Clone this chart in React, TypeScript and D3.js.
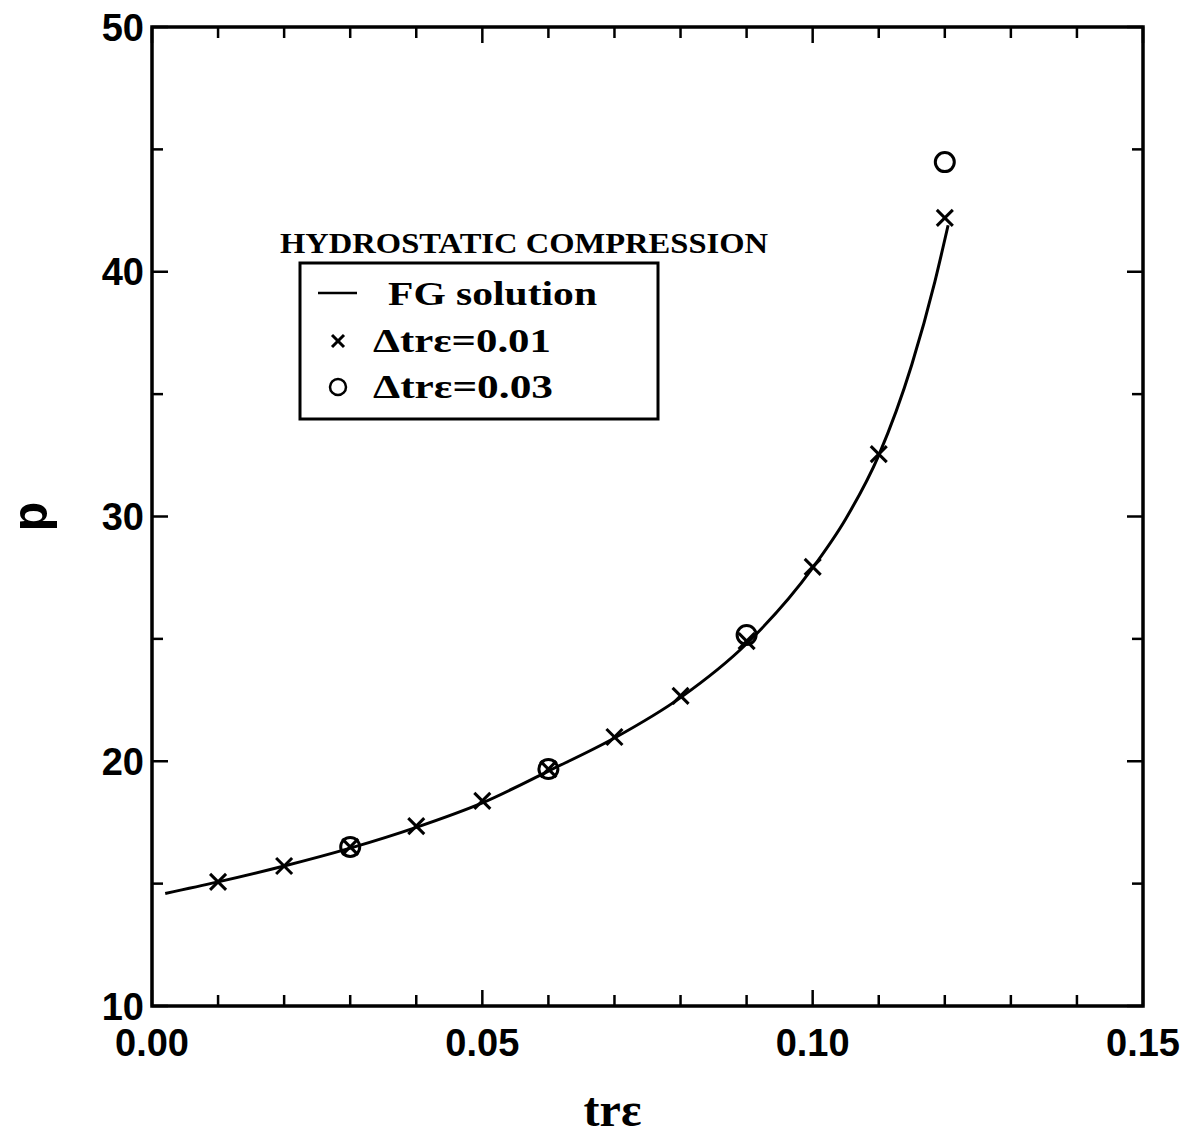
import React from "react";
import * as d3 from "d3";

const W = 1191;
const H = 1139;
const margin = { top: 27, right: 48, bottom: 133, left: 152 };
const innerW = W - margin.left - margin.right;
const innerH = H - margin.top - margin.bottom;

// FG solution curve
const curveX = [0.002, 0.01, 0.02, 0.03, 0.04, 0.05, 0.06, 0.07, 0.08, 0.09, 0.1, 0.105, 0.11, 0.115, 0.1185, 0.1205];
const curveP = [14.6, 15.07, 15.72, 16.45, 17.3, 18.3, 19.6, 20.95, 22.6, 24.8, 27.9, 29.9, 32.5, 36.2, 39.6, 41.9];

// Δtrε = 0.01 (crosses)
const crossX = [0.01, 0.02, 0.03, 0.04, 0.05, 0.06, 0.07, 0.08, 0.09, 0.1, 0.11, 0.12];
const crossP = [15.07, 15.72, 16.5, 17.35, 18.38, 19.68, 20.99, 22.67, 24.91, 27.94, 32.55, 42.2];

// Δtrε = 0.03 (circles)
const circX = [0.03, 0.06, 0.09, 0.12];
const circP = [16.5, 19.68, 25.16, 44.48];

const xTicks = [0, 0.05, 0.1, 0.15];
const yTicks = [10, 20, 30, 40, 50];

const x = d3.scaleLinear().domain([0, 0.15]).range([0, innerW]);
const y = d3.scaleLinear().domain([10, 50]).range([innerH, 0]);

const labelFont = "'Liberation Sans', Arial, sans-serif";
const serif = "'Liberation Serif', 'DejaVu Serif', serif";

function Cross({ cx, cy, s = 8 }: { cx: number; cy: number; s?: number }) {
  return (
    <g stroke="#000" strokeWidth={3}>
      <line x1={cx - s} y1={cy - s} x2={cx + s} y2={cy + s} />
      <line x1={cx - s} y1={cy + s} x2={cx + s} y2={cy - s} />
    </g>
  );
}

export default function App() {
  const line = d3
    .line<number>()
    .x((_, i) => x(curveX[i]))
    .y((d) => y(d))
    .curve(d3.curveMonotoneX);

  const minorX = d3.range(0, 16).map((i) => i / 100);
  const minorY = d3.range(10, 51, 5);

  return (
    <svg width={W} height={H} style={{ position: "absolute", left: 0, top: 0, background: "#fff" }}>
      <g transform={`translate(${margin.left},${margin.top})`}>
        {/* ticks on all sides, pointing inward */}
        {minorX.map((t, i) => {
          const len = i % 5 === 0 ? 16 : 11;
          return (
            <g key={"xt" + i} stroke="#000" strokeWidth={2.5}>
              <line x1={x(t)} x2={x(t)} y1={innerH} y2={innerH - len} />
              <line x1={x(t)} x2={x(t)} y1={0} y2={len} />
            </g>
          );
        })}
        {minorY.map((t, i) => {
          const len = t % 10 === 0 ? 16 : 11;
          return (
            <g key={"yt" + i} stroke="#000" strokeWidth={2.5}>
              <line x1={0} x2={len} y1={y(t)} y2={y(t)} />
              <line x1={innerW} x2={innerW - len} y1={y(t)} y2={y(t)} />
            </g>
          );
        })}
        <rect x={0} y={0} width={innerW} height={innerH} fill="none" stroke="#000" strokeWidth={3.5} />

        {xTicks.map((t) => (
          <text key={"xl" + t} x={x(t)} y={innerH + 50} textAnchor="middle" fontFamily={labelFont} fontWeight="bold" fontSize={38} fill="#000">
            {t.toFixed(2)}
          </text>
        ))}
        {yTicks.map((t) => (
          <text key={"yl" + t} x={-8} y={y(t)} dy="0.36em" textAnchor="end" fontFamily={labelFont} fontWeight="bold" fontSize={38} fill="#000">
            {t}
          </text>
        ))}

        <text x={innerW / 2 - 35} y={innerH + 120} textAnchor="middle" fontFamily={serif} fontWeight="bold" fontSize={48} fill="#000">
          trε
        </text>
        <text transform={`translate(${-120},${y(30)}) rotate(-90)`} textAnchor="middle" dy="0.3em" fontFamily="'Liberation Mono', monospace" fontWeight="bold" fontSize={50} fill="#000">
          p
        </text>

        <path d={line(curveP) ?? ""} fill="none" stroke="#000" strokeWidth={3} />
        {crossX.map((d, i) => (
          <Cross key={"c" + i} cx={x(d)} cy={y(crossP[i])} />
        ))}
        {circX.map((d, i) => (
          <circle key={"o" + i} cx={x(d)} cy={y(circP[i])} r={9.5} fill="none" stroke="#000" strokeWidth={3} />
        ))}
      </g>

      {/* legend */}
      <text x={280} y={253} fontFamily={serif} fontWeight="bold" fontSize={29} textLength={488} lengthAdjust="spacingAndGlyphs" fill="#000">
        HYDROSTATIC COMPRESSION
      </text>
      <rect x={300} y={263} width={358} height={156} fill="none" stroke="#000" strokeWidth={3} />
      <line x1={318} x2={357} y1={293} y2={293} stroke="#000" strokeWidth={2.5} />
      <text x={388} y={305} fontFamily={serif} fontWeight="bold" fontSize={34} textLength={209} lengthAdjust="spacingAndGlyphs" fill="#000">
        FG solution
      </text>
      <Cross cx={338} cy={341} s={6} />
      <text x={373} y={352} fontFamily={serif} fontWeight="bold" fontSize={34} textLength={178} lengthAdjust="spacingAndGlyphs" fill="#000">
        Δtrε=0.01
      </text>
      <circle cx={338} cy={387} r={8} fill="none" stroke="#000" strokeWidth={2.5} />
      <text x={373} y={398} fontFamily={serif} fontWeight="bold" fontSize={34} textLength={180} lengthAdjust="spacingAndGlyphs" fill="#000">
        Δtrε=0.03
      </text>
    </svg>
  );
}
